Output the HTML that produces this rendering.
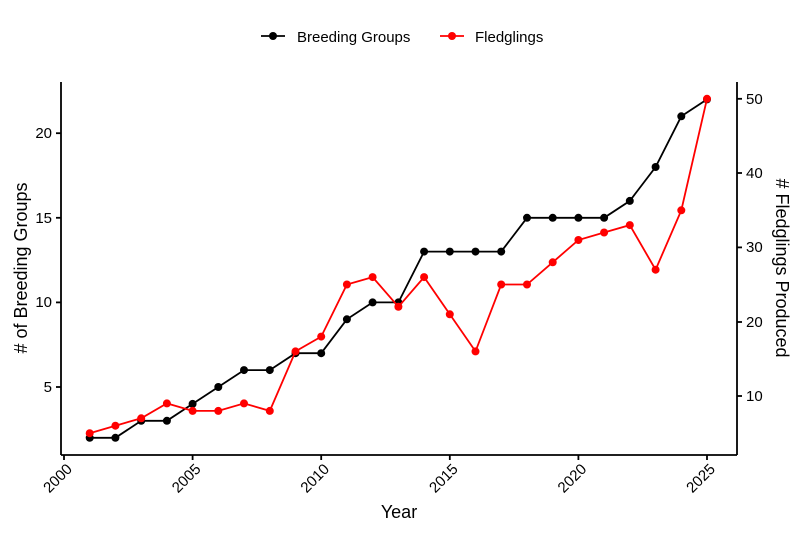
<!DOCTYPE html>
<html><head><meta charset="utf-8"><style>
html,body{margin:0;padding:0;background:#fff;}
svg{display:block;font-family:"Liberation Sans",sans-serif;}
</style></head><body>
<svg width="800" height="533" viewBox="0 0 800 533" xmlns="http://www.w3.org/2000/svg">
<rect width="800" height="533" fill="#fff"/>
<line x1="261" y1="36" x2="285" y2="36" stroke="#000" stroke-width="1.8"/>
<circle cx="273" cy="36" r="4" fill="#000"/>
<text x="297" y="42" font-size="15" fill="#000">Breeding Groups</text>
<line x1="440" y1="36" x2="464" y2="36" stroke="#f00" stroke-width="1.8"/>
<circle cx="452" cy="36" r="4" fill="#f00"/>
<text x="475" y="42" font-size="15" fill="#000">Fledglings</text>
<g stroke="#000" stroke-width="1.8" fill="none">
<line x1="61" y1="82" x2="61" y2="455"/>
<line x1="61" y1="455" x2="737" y2="455"/>
<line x1="737" y1="82" x2="737" y2="455"/>
<line x1="56" y1="387" x2="61" y2="387"/>
<line x1="56" y1="302.4" x2="61" y2="302.4"/>
<line x1="56" y1="217.8" x2="61" y2="217.8"/>
<line x1="56" y1="133.2" x2="61" y2="133.2"/>
<line x1="737" y1="396" x2="742" y2="396"/>
<line x1="737" y1="322" x2="742" y2="322"/>
<line x1="737" y1="247.4" x2="742" y2="247.4"/>
<line x1="737" y1="173" x2="742" y2="173"/>
<line x1="737" y1="98.8" x2="742" y2="98.8"/>
<line x1="64" y1="455" x2="64" y2="460"/>
<line x1="192.6" y1="455" x2="192.6" y2="460"/>
<line x1="321.2" y1="455" x2="321.2" y2="460"/>
<line x1="449.8" y1="455" x2="449.8" y2="460"/>
<line x1="578.4" y1="455" x2="578.4" y2="460"/>
<line x1="707" y1="455" x2="707" y2="460"/>
</g>
<g font-size="15" fill="#000" text-anchor="end">
<text x="52" y="392">5</text>
<text x="52" y="307">10</text>
<text x="52" y="223">15</text>
<text x="52" y="138">20</text>
</g>
<g font-size="15" fill="#000" text-anchor="start">
<text x="746" y="401">10</text>
<text x="746" y="327">20</text>
<text x="746" y="252">30</text>
<text x="746" y="178">40</text>
<text x="746" y="104">50</text>
</g>
<g font-size="15" fill="#000" text-anchor="end">
<text transform="translate(73,470) rotate(-45)">2000</text>
<text transform="translate(201.6,470) rotate(-45)">2005</text>
<text transform="translate(330.2,470) rotate(-45)">2010</text>
<text transform="translate(458.8,470) rotate(-45)">2015</text>
<text transform="translate(587.4,470) rotate(-45)">2020</text>
<text transform="translate(716,470) rotate(-45)">2025</text>
</g>
<text x="399" y="518" font-size="18" text-anchor="middle" fill="#000">Year</text>
<text transform="translate(27,268) rotate(-90)" font-size="18" text-anchor="middle" fill="#000"># of Breeding Groups</text>
<text transform="translate(776,268) rotate(90)" font-size="18" text-anchor="middle" fill="#000"># Fledglings Produced</text>
<polyline fill="none" stroke="#000" stroke-width="1.8" points="89.7,437.8 115.4,437.8 141.2,420.8 166.9,420.8 192.6,403.9 218.3,387 244,370.1 269.8,370.1 295.5,353.2 321.2,353.2 346.9,319.3 372.6,302.4 398.4,302.4 424.1,251.6 449.8,251.6 475.5,251.6 501.2,251.6 527,217.8 552.7,217.8 578.4,217.8 604.1,217.8 629.8,200.9 655.6,167 681.3,116.3 707,99.4"/>
<g fill="#000">
<circle cx="89.7" cy="437.8" r="4"/><circle cx="115.4" cy="437.8" r="4"/><circle cx="141.2" cy="420.8" r="4"/><circle cx="166.9" cy="420.8" r="4"/><circle cx="192.6" cy="403.9" r="4"/><circle cx="218.3" cy="387" r="4"/><circle cx="244" cy="370.1" r="4"/><circle cx="269.8" cy="370.1" r="4"/><circle cx="295.5" cy="353.2" r="4"/><circle cx="321.2" cy="353.2" r="4"/><circle cx="346.9" cy="319.3" r="4"/><circle cx="372.6" cy="302.4" r="4"/><circle cx="398.4" cy="302.4" r="4"/><circle cx="424.1" cy="251.6" r="4"/><circle cx="449.8" cy="251.6" r="4"/><circle cx="475.5" cy="251.6" r="4"/><circle cx="501.2" cy="251.6" r="4"/><circle cx="527" cy="217.8" r="4"/><circle cx="552.7" cy="217.8" r="4"/><circle cx="578.4" cy="217.8" r="4"/><circle cx="604.1" cy="217.8" r="4"/><circle cx="629.8" cy="200.9" r="4"/><circle cx="655.6" cy="167" r="4"/><circle cx="681.3" cy="116.3" r="4"/><circle cx="707" cy="99.4" r="4"/>
</g>
<polyline fill="none" stroke="#f00" stroke-width="1.8" points="89.7,433.2 115.4,425.7 141.2,418.3 166.9,403.4 192.6,410.9 218.3,410.9 244,403.4 269.8,410.9 295.5,351.4 321.2,336.6 346.9,284.5 372.6,277.1 398.4,306.8 424.1,277.1 449.8,314.3 475.5,351.4 501.2,284.5 527,284.5 552.7,262.3 578.4,240 604.1,232.5 629.8,225.1 655.6,269.7 681.3,210.3 707,98.8"/>
<g fill="#f00">
<circle cx="89.7" cy="433.2" r="4"/><circle cx="115.4" cy="425.7" r="4"/><circle cx="141.2" cy="418.3" r="4"/><circle cx="166.9" cy="403.4" r="4"/><circle cx="192.6" cy="410.9" r="4"/><circle cx="218.3" cy="410.9" r="4"/><circle cx="244" cy="403.4" r="4"/><circle cx="269.8" cy="410.9" r="4"/><circle cx="295.5" cy="351.4" r="4"/><circle cx="321.2" cy="336.6" r="4"/><circle cx="346.9" cy="284.5" r="4"/><circle cx="372.6" cy="277.1" r="4"/><circle cx="398.4" cy="306.8" r="4"/><circle cx="424.1" cy="277.1" r="4"/><circle cx="449.8" cy="314.3" r="4"/><circle cx="475.5" cy="351.4" r="4"/><circle cx="501.2" cy="284.5" r="4"/><circle cx="527" cy="284.5" r="4"/><circle cx="552.7" cy="262.3" r="4"/><circle cx="578.4" cy="240" r="4"/><circle cx="604.1" cy="232.5" r="4"/><circle cx="629.8" cy="225.1" r="4"/><circle cx="655.6" cy="269.7" r="4"/><circle cx="681.3" cy="210.3" r="4"/><circle cx="707" cy="98.8" r="4"/>
</g>
</svg>
</body></html>
